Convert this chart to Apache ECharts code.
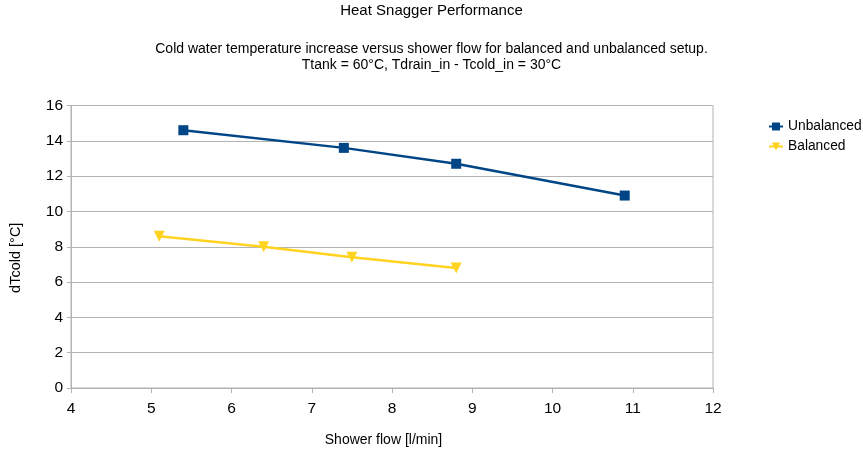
<!DOCTYPE html>
<html>
<head>
<meta charset="utf-8">
<script src="https://cdn.jsdelivr.net/npm/echarts@6/dist/echarts.min.js"></script>
<style>html,body{margin:0;padding:0;background:#fff}#c{width:863px;height:456px}</style>
</head>
<body>
<div id="c"></div>
<script>
var titleText = 'Heat Snagger Performance';
var subText = 'Cold water temperature increase versus shower flow for balanced and unbalanced setup.\nTtank = 60°C, Tdrain_in - Tcold_in = 30°C';
var xName = 'Shower flow [l/min]';
var yName = 'dTcold [°C]';
var unbalancedX = [5.4, 7.4, 8.8, 10.9];
var unbalancedY = [14.6, 13.6, 12.7, 10.9];
var balancedX = [5.1, 6.4, 7.5, 8.8];
var balancedY = [8.6, 8.0, 7.4, 6.8];

function pairs(xs, ys){ return xs.map(function(x,i){return [x, ys[i]];}); }

var font = '"Liberation Sans", Arial, sans-serif';
var chart = echarts.init(document.getElementById('c'), null, {renderer:'canvas'});
chart.setOption({
  animation:false,
  backgroundColor:'#ffffff',
  textStyle:{fontFamily:font},
  title:[
    {text:titleText, left:'center', top:-2, textStyle:{fontFamily:font, fontSize:15, fontWeight:'normal', color:'#000'}},
    {text:subText, left:'center', top:36, textStyle:{fontFamily:font, fontSize:14, fontWeight:'normal', color:'#000', lineHeight:16, align:'center'}}
  ],
  legend:{
    orient:'vertical', left:763, top:114, itemGap:5, itemWidth:14, itemHeight:10,
    textStyle:{fontFamily:font, fontSize:13.8, lineHeight:15, color:'#000'},
    data:['Unbalanced','Balanced']
  },
  grid:{left:70, right:150, top:105.5, bottom:68, show:true, borderColor:'#b3b3b3', borderWidth:1},
  xAxis:{
    type:'value', min:4, max:12, interval:1,
    name:xName, nameLocation:'middle', nameGap:45,
    nameTextStyle:{fontFamily:font, fontSize:14, color:'#000', padding:[0,17,0,0]},
    axisLine:{show:true, lineStyle:{color:'#b3b3b3'}},
    axisTick:{show:true, length:5, lineStyle:{color:'#b3b3b3'}},
    axisLabel:{fontFamily:font, fontSize:15.5, color:'#000', margin:13},
    splitLine:{show:false}
  },
  yAxis:{
    type:'value', min:0, max:16, interval:2,
    name:yName, nameLocation:'middle', nameGap:48, nameRotate:90,
    nameTextStyle:{fontFamily:font, fontSize:14.5, color:'#000', padding:[0,22,0,0]},
    axisLine:{show:true, lineStyle:{color:'#b3b3b3'}},
    axisTick:{show:true, length:4, lineStyle:{color:'#b3b3b3'}},
    axisLabel:{fontFamily:font, fontSize:15.5, color:'#000', margin:8},
    splitLine:{show:true, lineStyle:{color:'#b3b3b3', width:1}}
  },
  series:[
    {name:'Unbalanced', type:'line', data:pairs(unbalancedX, unbalancedY),
     symbol:'rect', symbolSize:10, color:'#004586',
     lineStyle:{width:2.5, color:'#004586'}, itemStyle:{color:'#004586'}},
    {name:'Balanced', type:'line', data:pairs(balancedX, balancedY),
     symbol:'triangle', symbolRotate:180, symbolSize:11, color:'#ffd320',
     lineStyle:{width:2.5, color:'#ffd320'}, itemStyle:{color:'#ffd320'}}
  ]
});
</script>
</body>
</html>
